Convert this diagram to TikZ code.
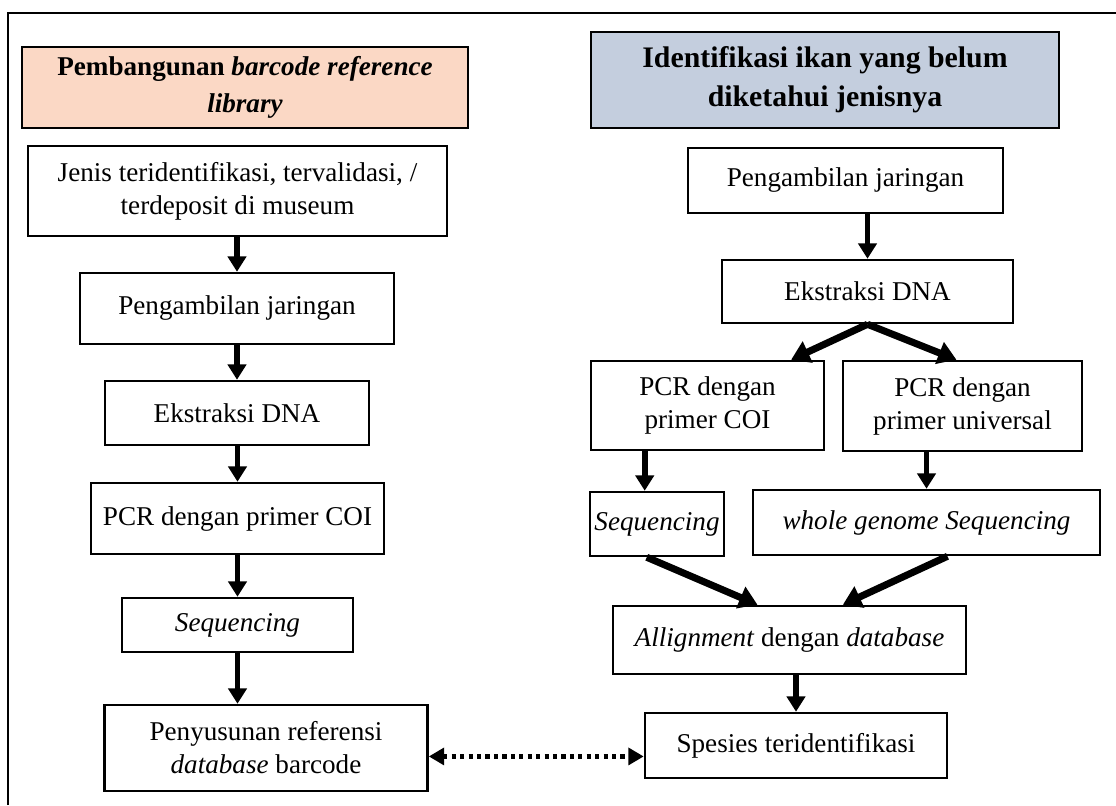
\documentclass[tikz,border=0pt]{standalone}
\usepackage{fontspec}
\setmainfont{Liberation Serif}
\usepackage{xcolor}
\usepackage{tikz}
\usetikzlibrary{arrows.meta,calc}

\definecolor{peach}{RGB}{251,216,197}
\definecolor{slate}{RGB}{196,206,222}

\tikzset{
  boxsize/.style 2 args={minimum width=#1*0.025cm, minimum height=#2*0.025cm},
  stepbox/.style={draw, line width=1.8pt, inner sep=0pt, align=center,
    font=\fontsize{19.3}{23.5}\selectfont},
  headbox/.style={stepbox, font=\fontsize{19.3}{26}\selectfont\bfseries},
  arr/.style={line width=4pt, -{Triangle[length=11pt,width=13pt]}},
  slantarr/.style={line width=5pt, -{Triangle[length=13pt,width=16pt]}},
  dotarr/.style={line width=3pt, dash pattern=on 3pt off 3pt,
    {Triangle[length=11pt,width=12pt]}-{Triangle[length=11pt,width=12pt]}},
}

\begin{document}
\begin{tikzpicture}[x=0.025cm, y=-0.025cm]
    \useasboundingbox (0,0) rectangle (1116,805);
    % Frame
    \draw[line width=2pt] (8,805) -- (8,13) -- (1116,13);

    % Headers
    \node[headbox, fill=peach, boxsize={446}{81}] (hdrL) at (245,87.5)
        {Pembangunan \textit{barcode reference}\\ \textit{library}};
    \node[headbox, fill=slate, boxsize={468}{96},
        font=\fontsize{21.2}{28}\selectfont\bfseries] (hdrR) at (825,80)
        {Identifikasi ikan yang belum\\ diketahui jenisnya};

    % Left column
    \node[stepbox, boxsize={419}{90}] (jenis) at (237.5,191)
        {Jenis teridentifikasi, tervalidasi, /\\ terdeposit di museum};
    \node[stepbox, boxsize={314}{71}] (ambilL) at (237,308.5) {Pengambilan jaringan};
    \node[stepbox, boxsize={264}{64}] (ekstrL) at (237,413) {Ekstraksi DNA};
    \node[stepbox, boxsize={293}{71}] (pcrL) at (237.5,518.5) {PCR dengan primer COI};
    \node[stepbox, boxsize={231}{54}] (seqL) at (237.5,625) {\textit{Sequencing}};
    \node[stepbox, boxsize={323}{86}] (susun) at (266,748)
        {Penyusunan referensi\\ \textit{database} barcode};

    \draw[arr] (jenis.south -| ambilL.north) -- (ambilL.north);
    \draw[arr] (ambilL.south -| ekstrL.north) -- (ekstrL.north);
    \draw[arr] (ekstrL.south -| pcrL.north) -- (pcrL.north);
    \draw[arr] (pcrL.south -| seqL.north) -- (seqL.north);
    \draw[arr] (seqL.south) -- (seqL.south |- susun.north);

    % Right column
    \node[stepbox, boxsize={315}{65}] (ambilR) at (845.5,180.5) {Pengambilan jaringan};
    \node[stepbox, boxsize={291}{63}] (ekstrR) at (867.5,291.5) {Ekstraksi DNA};
    \node[stepbox, boxsize={233}{89}] (pcrR1) at (707.5,405.5) {PCR dengan\\ primer COI};
    \node[stepbox, boxsize={239}{90}] (pcrR2) at (962.5,406) {PCR dengan\\ primer universal};
    \node[stepbox, boxsize={134}{64}] (seqR) at (657,524) {\textit{Sequencing}};
    \node[stepbox, boxsize={347}{65}] (wgs) at (926.5,522.5) {\textit{whole genome Sequencing}};
    \node[stepbox, boxsize={353}{68}] (allign) at (789.5,640)
        {\textit{Allignment} dengan \textit{database}};
    \node[stepbox, boxsize={302}{65}] (spesies) at (796,745.5) {Spesies teridentifikasi};

    \coordinate (seqTop) at ($(seqR.north)!0.18!(seqR.north west)$);

    \draw[arr] (ambilR.south -| ekstrR.north) -- (ekstrR.north);
    \draw[slantarr] (ekstrR.south) -- ($(pcrR1.north)!0.71!(pcrR1.north east)$);
    \draw[slantarr] (ekstrR.south) -- ($(pcrR2.north)!0.05!(pcrR2.north west)$);
    \draw[arr] (seqTop |- pcrR1.south) -- (seqTop);
    \draw[arr] (wgs.north |- pcrR2.south) -- (wgs.north);
    \draw[slantarr] ($(seqR.south)!0.15!(seqR.south west)$)
        -- ($(allign.north)!0.18!(allign.north west)$);
    \draw[slantarr] ($(wgs.south)!0.12!(wgs.south east)$)
        -- ($(allign.north)!0.3!(allign.north east)$);
    \draw[arr] (allign.south -| spesies.north) -- (spesies.north);

    % Link between both sides
    \draw[dotarr] ([yshift=-6pt]susun.east) -- ([yshift=-6pt]susun.east -| spesies.west);
\end{tikzpicture}
\end{document}
